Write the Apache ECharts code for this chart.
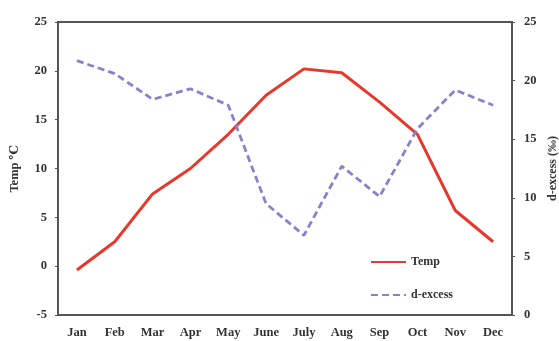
<!DOCTYPE html>
<html>
<head>
<meta charset="utf-8">
<script src="https://cdn.jsdelivr.net/npm/echarts@6/dist/echarts.min.js"></script>
<style>
  html, body { margin: 0; padding: 0; background: #fff; }
  #chart { width: 559px; height: 341px; }
</style>
</head>
<body>
<div id="chart"></div>
<script>
// Monthly mean air temperature and precipitation d-excess
const months = ['Jan', 'Feb', 'Mar', 'Apr', 'May', 'June', 'July', 'Aug', 'Sep', 'Oct', 'Nov', 'Dec'];
const tempValues = [-0.4, 2.5, 7.4, 10.0, 13.5, 17.5, 20.2, 19.8, 16.8, 13.5, 5.7, 2.5];
const dExcessValues = [21.7, 20.6, 18.4, 19.3, 17.9, 9.5, 6.8, 12.7, 10.1, 15.9, 19.2, 17.9];

const serif = '"Liberation Serif", "DejaVu Serif", serif';
const axisColor = '#555';
const textStyle = { fontFamily: serif, fontWeight: 'bold', fontSize: 12.5, color: '#333' };

const chart = echarts.init(document.getElementById('chart'));
chart.setOption({
  animation: false,
  grid: {
    left: 58, right: 47, top: 22, bottom: 26,
    outerBoundsMode: 'none',
    containLabel: false,
    show: true, borderColor: axisColor, borderWidth: 2
  },
  legend: {
    orient: 'vertical',
    left: 365, top: 251,
    itemWidth: 35, itemHeight: 10, itemGap: 21,
    itemStyle: { opacity: 0 },
    textStyle: Object.assign({}, textStyle, { fontSize: 12 }),
    data: ['Temp', 'd-excess']
  },
  xAxis: {
    type: 'category',
    data: months,
    boundaryGap: true,
    axisLine: { onZero: false, lineStyle: { color: axisColor, width: 2 } },
    axisTick: { length: 3, lineStyle: { color: axisColor } },
    axisLabel: Object.assign({ margin: 11, interval: 0 }, textStyle)
  },
  yAxis: [
    {
      type: 'value', min: -5, max: 25, interval: 5,
      name: 'Temp ℃', nameLocation: 'middle', nameGap: 37, nameRotate: 90,
      nameTextStyle: textStyle,
      axisLine: { show: true, lineStyle: { color: axisColor, width: 2 } },
      axisTick: { show: true, length: 3, lineStyle: { color: axisColor } },
      axisLabel: Object.assign({ margin: 11 }, textStyle),
      splitLine: { show: false }
    },
    {
      type: 'value', min: 0, max: 25, interval: 5,
      name: 'd-excess (‰)', nameLocation: 'middle', nameGap: 33, nameRotate: 90,
      nameTextStyle: Object.assign({}, textStyle, { fontSize: 12 }),
      axisLine: { show: true, lineStyle: { color: axisColor, width: 2 } },
      axisTick: { show: true, length: 3, lineStyle: { color: axisColor } },
      axisLabel: Object.assign({ margin: 12 }, textStyle),
      splitLine: { show: false }
    }
  ],
  series: [
    {
      name: 'Temp', type: 'line', yAxisIndex: 0,
      data: tempValues, symbol: 'none',
      lineStyle: { color: '#e8382c', width: 3 },
      itemStyle: { color: '#e8382c' }
    },
    {
      name: 'd-excess', type: 'line', yAxisIndex: 1,
      data: dExcessValues, symbol: 'none',
      lineStyle: { color: '#8783cb', width: 2.8, type: [7, 4] },
      itemStyle: { color: '#8783cb' }
    }
  ]
});
</script>
</body>
</html>
